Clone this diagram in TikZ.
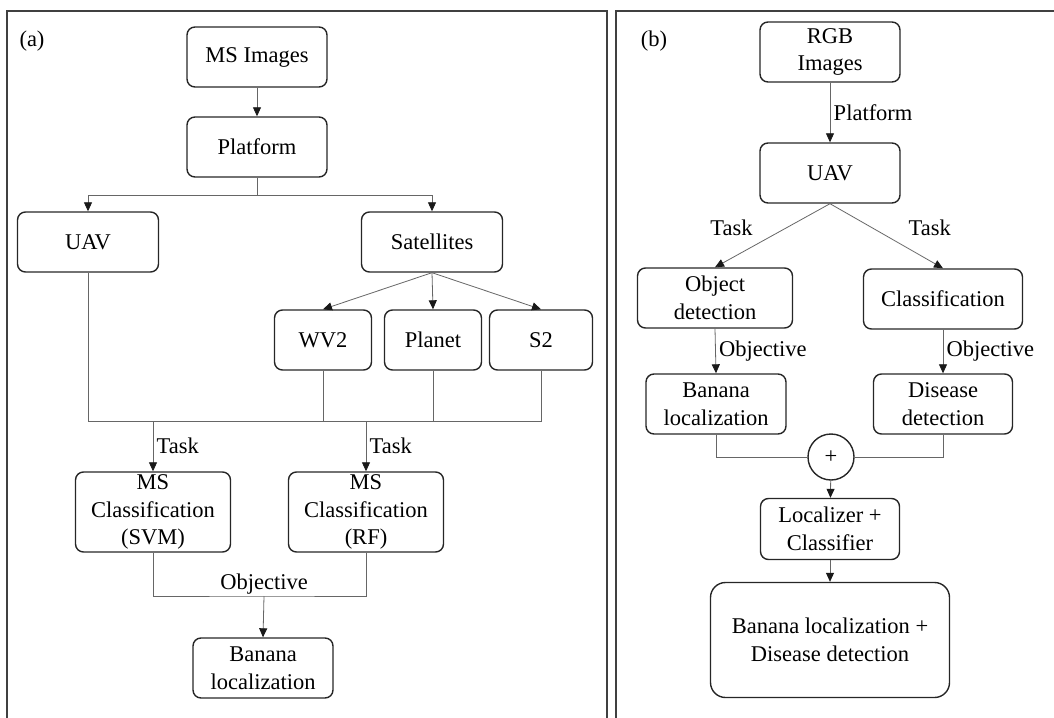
\documentclass[tikz,border=0pt]{standalone}
\usepackage{fontspec}
\setmainfont{Liberation Serif}
\usetikzlibrary{arrows.meta}
\begin{document}
\begin{tikzpicture}[x=1pt,y=-1pt,>={Triangle[length=9pt,width=8pt,color=black!90]},
    font=\fontsize{22.5}{27.5}\selectfont,
    box/.style={draw=black!85,line width=1.4pt,rounded corners=8pt,align=center,
        inner sep=1pt,minimum width=140pt,minimum height=60pt},
    conn/.style={draw=black!60,line width=0.8pt},
    frame/.style={draw=black!75,line width=1.6pt}]
    \useasboundingbox (0,0) rectangle (1054,717);
    % panel frames
    \draw[frame] (7,720) -- (7,11) -- (607,11) -- (607,720);
    \draw[frame] (616,720) -- (616,11) -- (1058,11);
    \node (LA) at (32,41) {(a)};
    \node (LB) at (654,41) {(b)};
    % panel (a)
    \node[box] (MSI) at (257,57) {MS Images};
    \node[box] (PFA) at (257,147) {Platform};
    \node[box,minimum width=141pt] (UAVA) at (88,242) {UAV};
    \node[box,minimum width=141pt] (SAT) at (432,242) {Satellites};
    \node[box,minimum width=97pt] (WV) at (323,340) {WV2};
    \node[box,minimum width=97pt] (PL) at (433,340) {Planet};
    \node[box,minimum width=103pt] (S2) at (541,340) {S2};
    \node[box,minimum width=155pt,minimum height=80pt] (SVM) at (153,512) {MS\\Classification\\(SVM)};
    \node[box,minimum width=155pt,minimum height=80pt] (RF) at (366,512) {MS\\Classification\\(RF)};
    \node[box] (BLA) at (263,668) {Banana\\localization};
    \coordinate (JA) at (257,195);
    \coordinate (BUS) at (0,421);
    \coordinate (OBJ) at (264,596);
    \draw[conn,->] (MSI) -- (PFA);
    \draw[conn] (PFA) -- (JA);
    \draw[conn,->] (JA) -| (UAVA.north);
    \draw[conn,->] (JA) -| (SAT.north);
    \draw[conn,->] (SAT.south) -- (WV.north);
    \draw[conn,->] (SAT.south) -- (PL.north);
    \draw[conn,->] (SAT.south) -- (S2.north);
    \draw[conn] (UAVA.south) -- (UAVA.south |- BUS) -- (S2.south |- BUS) -- (S2.south);
    \draw[conn] (WV.south) -- (WV.south |- BUS);
    \draw[conn] (PL.south) -- (PL.south |- BUS);
    \draw[conn,->] (SVM.north |- BUS) -- node[right] {Task} (SVM.north);
    \draw[conn,->] (RF.north |- BUS) -- node[right] {Task} (RF.north);
    \draw[conn] (SVM.south) |- (OBJ) -| (RF.south);
    \node[above,inner sep=2pt] (OL) at (OBJ) {Objective};
    \draw[conn,->] (OBJ) -- (BLA.north);
    % panel (b)
    \node[box] (RGB) at (830,52) {RGB\\Images};
    \node[box] (UAVB) at (830,173) {UAV};
    \node[box,minimum width=155pt] (OD) at (715,298) {Object\\detection};
    \node[box,minimum width=159pt] (CL) at (943,299) {Classification};
    \node[box] (BLB) at (716,404) {Banana\\localization};
    \node[box,minimum width=139pt] (DD) at (943,404) {Disease\\detection};
    \node[draw=black!85,line width=1.4pt,circle,minimum size=46pt,inner sep=0pt] (SUM) at (831,457) {+};
    \node[box,minimum width=139pt,minimum height=61pt] (LC) at (830,529) {Localizer +\\Classifier};
    \node[box,minimum width=239pt,minimum height=115pt,rounded corners=15pt] (FIN) at (830,640) {Banana localization +\\Disease detection};
    \draw[conn,->] (RGB) -- node[right] {Platform} (UAVB);
    \draw[conn,->] (UAVB.south) -- node[pos=0.38,left=30pt] {Task} (OD.north);
    \draw[conn,->] (UAVB.south) -- node[pos=0.38,right=32pt] {Task} (CL.north);
    \draw[conn,->] (OD.south) -- node[right] {Objective} (BLB.north);
    \draw[conn,->] (CL.south) -- node[right] {Objective} (DD.north);
    \draw[conn] (BLB.south) |- (SUM.west);
    \draw[conn] (DD.south) |- (SUM.east);
    \draw[conn,->] (SUM) -- (LC);
    \draw[conn,->] (LC) -- (FIN);
\end{tikzpicture}
\end{document}
